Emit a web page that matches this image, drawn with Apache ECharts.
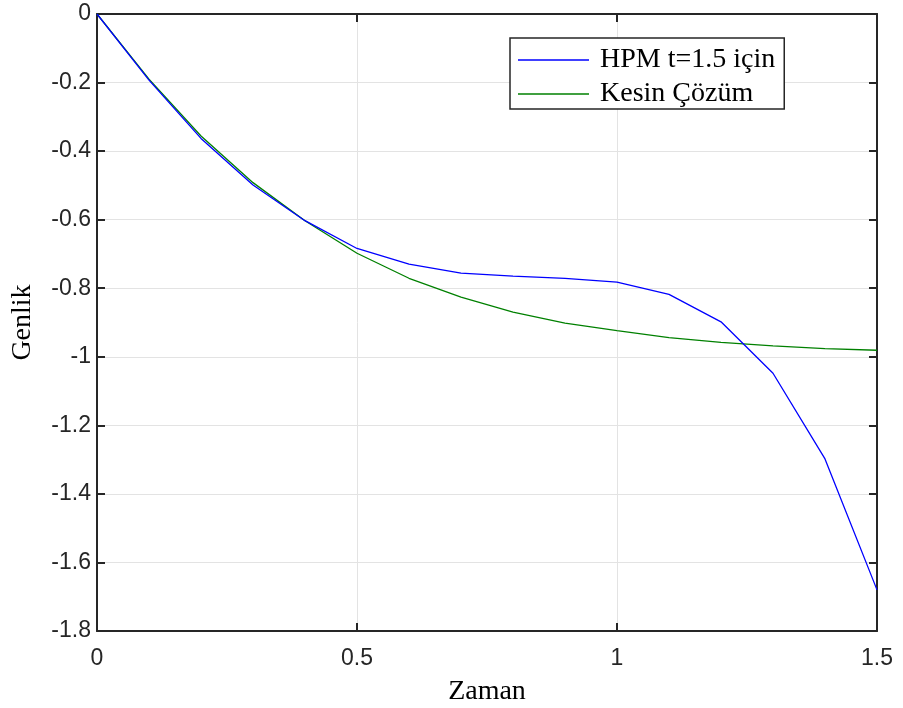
<!DOCTYPE html>
<html>
<head>
<meta charset="utf-8">
<script src="https://cdn.jsdelivr.net/npm/echarts@6/dist/echarts.min.js"></script>
<style>html,body{margin:0;padding:0;background:#fff;}#c{width:903px;height:708px;}</style>
</head>
<body>
<div id="c"></div>
<script>
const zaman = [0, 0.1, 0.2, 0.3, 0.4, 0.5, 0.6, 0.7, 0.8, 0.9, 1.0, 1.1, 1.2, 1.3, 1.4, 1.5];
const hpm = [0, -0.193, -0.363, -0.499, -0.603, -0.684, -0.730, -0.756, -0.765, -0.771, -0.782, -0.818, -0.898, -1.048, -1.298, -1.680];
const kesin = [0, -0.190, -0.356, -0.492, -0.603, -0.698, -0.771, -0.826, -0.870, -0.902, -0.924, -0.944, -0.958, -0.968, -0.976, -0.981];
const seriesNames = ['HPM t=1.5 için', 'Kesin Çözüm'];

const frame = {color: '#262626', width: 2};
const chart = echarts.init(document.getElementById('c'), null, {renderer: 'canvas'});
chart.setOption({
  animation: false,
  backgroundColor: '#fff',
  grid: {left: 97, right: 26, top: 14, bottom: 77, containLabel: false, outerBoundsMode: 'none'},
  legend: {
    orient: 'vertical', left: 510, top: 38,
    data: seriesNames,
    backgroundColor: '#fff',
    borderColor: '#262626', borderWidth: 1.5,
    padding: [8, 9, 1, 8],
    itemWidth: 71, itemHeight: 1.5, itemGap: 6,
    icon: 'rect',
    textStyle: {fontFamily: 'Liberation Serif', fontSize: 28, color: '#000', padding: [0, 0, 0, 6], lineHeight: 26}
  },
  xAxis: [{
    type: 'value', min: 0, max: 1.5, interval: 0.5, position: 'bottom',
    name: 'Zaman', nameLocation: 'middle', nameGap: 47,
    nameTextStyle: {fontFamily: 'Liberation Serif', fontSize: 28, color: '#000'},
    axisLine: {show: true, onZero: false, lineStyle: frame},
    axisTick: {show: true, inside: true, length: 8, lineStyle: frame},
    axisLabel: {fontFamily: 'Liberation Sans', fontSize: 23, color: '#262626', margin: 16},
    splitLine: {show: true, lineStyle: {color: '#e3e3e3', width: 1}}
  }, {
    type: 'value', min: 0, max: 1.5, interval: 0.5, position: 'top',
    axisLine: {show: true, onZero: false, lineStyle: frame},
    axisTick: {show: true, inside: true, length: 8, lineStyle: frame},
    axisLabel: {show: false}, splitLine: {show: false}
  }],
  yAxis: [{
    type: 'value', min: -1.8, max: 0, interval: 0.2, position: 'left',
    name: 'Genlik', nameLocation: 'middle', nameGap: 60, nameRotate: 90,
    nameTextStyle: {fontFamily: 'Liberation Serif', fontSize: 28, color: '#000'},
    axisLine: {show: true, onZero: false, lineStyle: frame},
    axisTick: {show: true, inside: true, length: 8, lineStyle: frame},
    axisLabel: {fontFamily: 'Liberation Sans', fontSize: 23, color: '#262626', margin: 6},
    splitLine: {show: true, lineStyle: {color: '#e3e3e3', width: 1}}
  }, {
    type: 'value', min: -1.8, max: 0, interval: 0.2, position: 'right',
    axisLine: {show: true, onZero: false, lineStyle: frame},
    axisTick: {show: true, inside: true, length: 8, lineStyle: frame},
    axisLabel: {show: false}, splitLine: {show: false}
  }],
  series: [{
    name: seriesNames[0], type: 'line', showSymbol: false, symbol: 'none',
    data: zaman.map((t, i) => [t, hpm[i]]),
    lineStyle: {color: '#0000ff', width: 1.3}, itemStyle: {color: '#0000ff'}, z: 3
  }, {
    name: seriesNames[1], type: 'line', showSymbol: false, symbol: 'none',
    data: zaman.map((t, i) => [t, kesin[i]]),
    lineStyle: {color: '#008000', width: 1.3}, itemStyle: {color: '#008000'}, z: 2
  }]
});
</script>
</body>
</html>
